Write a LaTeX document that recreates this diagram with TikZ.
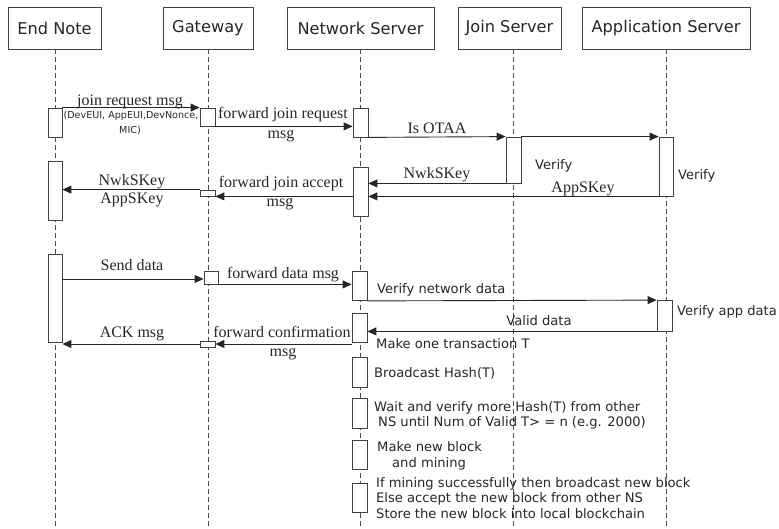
\documentclass[tikz,border=0pt]{standalone}
\usepackage{fontspec}
\setmainfont{Liberation Serif}
\newfontfamily\vsans{DejaVu Sans}
\usetikzlibrary{arrows.meta,fit}
\begin{document}
\begin{tikzpicture}[x=1pt,y=-1pt,
  head/.style={draw=black!75,line width=0.8pt,fill=white,inner sep=0,font=\vsans\fontsize{16.2}{18}\selectfont,text=black!85},
  life/.style={draw=black!70,line width=0.8pt,dash pattern=on 5pt off 3pt},
  act/.style={draw=black!75,line width=0.8pt,fill=white,inner sep=0},
  msg/.style={draw=black!85,line width=0.9pt,-{Triangle[length=9pt,width=8pt]}},
  slab/.style={font=\fontsize{16}{18}\selectfont,inner sep=0,anchor=base,text=black!85},
  vlab/.style={font=\vsans\fontsize{13.1}{15}\selectfont,inner sep=0,anchor=base west,text=black!85},
  tinylab/.style={font=\vsans\fontsize{9.6}{11}\selectfont,inner sep=0,anchor=base,text=black!85}
]
\useasboundingbox (0,0) rectangle (779,528);
% headers
\node[head,minimum width=93pt,minimum height=42pt] (hEN) at (54.5,28) {End Note};
\node[head,minimum width=90pt,minimum height=42pt] (hGW) at (208,28) {Gateway};
\node[head,minimum width=147pt,minimum height=42pt] (hNS) at (360.5,28) {Network Server};
\node[head,minimum width=103pt,minimum height=42pt] (hJS) at (509.5,28) {Join Server};
\node[head,minimum width=168pt,minimum height=42pt] (hAS) at (666,28) {Application Server};
% lifelines
\coordinate (tEN) at (55,49);  \coordinate (bEN) at (55,528);
\coordinate (tGW) at (208,49); \coordinate (bGW) at (208,528);
\coordinate (tNS) at (360,49); \coordinate (bNS) at (360,528);
\coordinate (tJS) at (513,49); \coordinate (bJS) at (513,528);
\coordinate (tAS) at (666,49); \coordinate (bAS) at (666,528);
\draw[life] (tEN) -- (bEN);
\draw[life] (tGW) -- (bGW);
\draw[life] (tNS) -- (bNS);
\draw[life] (tJS) -- (bJS);
\draw[life] (tAS) -- (bAS);
% activation boxes
\node[act,fit={(48,108) (62,137)}] (en1) {};
\node[act,fit={(48,161) (62,220)}] (en2) {};
\node[act,fit={(48,254) (62,342)}] (en3) {};
\node[act,fit={(200,108) (215,126)}] (gw1) {};
\node[act,fit={(200,190) (215,196)}] (gw2) {};
\node[act,fit={(204,271) (218,284)}] (gw3) {};
\node[act,fit={(200,341) (215,347)}] (gw4) {};
\node[act,fit={(353,108) (368,137)}] (ns1) {};
\node[act,fit={(353,167) (368,216)}] (ns2) {};
\node[act,fit={(352,271) (367,300.5)}] (ns3) {};
\node[act,fit={(352,313) (367,342)}] (ns4) {};
\node[act,fit={(352,357) (367,387)}] (ns5) {};
\node[act,fit={(352,398) (367,428)}] (ns6) {};
\node[act,fit={(352,440) (367,469)}] (ns7) {};
\node[act,fit={(352,483) (367,512)}] (ns8) {};
\node[act,fit={(506,137) (521,183)}] (js1) {};
\node[act,fit={(659,137) (673,196)}] (as1) {};
\node[act,fit={(657,300.5) (672,331)}] (as2) {};
% messages
\draw[msg] (en1.north east) -- (gw1.north west);
\draw[msg] (gw1.south east) -- (gw1.south east -| ns1.west);
\draw[msg] (ns1.south east) -- (js1.north west);
\draw[msg] (js1.north east) -- (as1.north west);
\draw[msg] (js1.south west) -- (js1.south west -| ns2.east);
\draw[msg] (as1.south west) -- (as1.south west -| ns2.east);
\draw[msg] (ns2.west |- gw2.south east) -- (gw2.south east);
\draw[msg] (gw2.north west) -- (gw2.north west -| en2.east);
\draw[msg] ([yshift=-1.5pt]gw3.west -| en3.east) -- ([yshift=-1.5pt]gw3.west);
\draw[msg] (gw3.south east) -- (gw3.south east -| ns3.west);
\draw[msg] (ns3.south east) -- (as2.north west);
\draw[msg] (as2.south west) -- (as2.south west -| ns4.east);
\draw[msg] (ns4.west |- gw4.east) -- (gw4.east);
\draw[msg] (gw4.west) -- (gw4.west -| en3.east);
% labels
\node[slab] (l1) at (130,105) {join request msg};
\node[tinylab] (l1b) at (131,118) {(DevEUI, AppEUI,DevNonce,};
\node[tinylab] (l1c) at (130,133) {MIC)};
\node[slab] (l2) at (283,118) {forward join request};
\node[slab] (l2b) at (281,138) {msg};
\node[slab] (l3) at (437,133) {Is OTAA};
\node[slab] (l4) at (437,178) {NwkSKey};
\node[vlab] (l4v) at (535,169) {Verify};
\node[slab] (l5) at (583,192) {AppSKey};
\node[vlab] (l5v) at (678,179) {Verify};
\node[slab] (l6) at (281,187) {forward join accept};
\node[slab] (l6b) at (280,206) {msg};
\node[slab] (l7) at (132,185) {NwkSKey};
\node[slab] (l7b) at (132,203) {AppSKey};
\node[slab] (l8) at (132,270) {Send data};
\node[slab] (l9) at (283,278) {forward data msg};
\node[vlab] (l10) at (377,293) {Verify network data};
\node[vlab] (l10v) at (677,315) {Verify app data};
\node[vlab,anchor=base] (l11) at (539,325) {Valid data};
\node[slab] (l12) at (132,337) {ACK msg};
\node[slab] (l13) at (282,337) {forward confirmation};
\node[slab] (l13b) at (283,356) {msg};
\node[vlab] (n1) at (376,348) {Make one transaction T};
\node[vlab] (n2) at (374,377) {Broadcast Hash(T)};
\node[vlab] (n3) at (374,411) {Wait and verify more Hash(T) from other};
\node[vlab] (n3b) at (378,426) {NS until Num of Valid T> = n (e.g. 2000)};
\node[vlab] (n4) at (377,451) {Make new block};
\node[vlab] (n4b) at (392,467) {and mining};
\node[vlab] (n5) at (376,487) {If mining successfully then broadcast new block};
\node[vlab] (n5b) at (376,502) {Else accept the new block from other NS};
\node[vlab] (n5c) at (376,518) {Store the new block into local blockchain};
\end{tikzpicture}
\end{document}
